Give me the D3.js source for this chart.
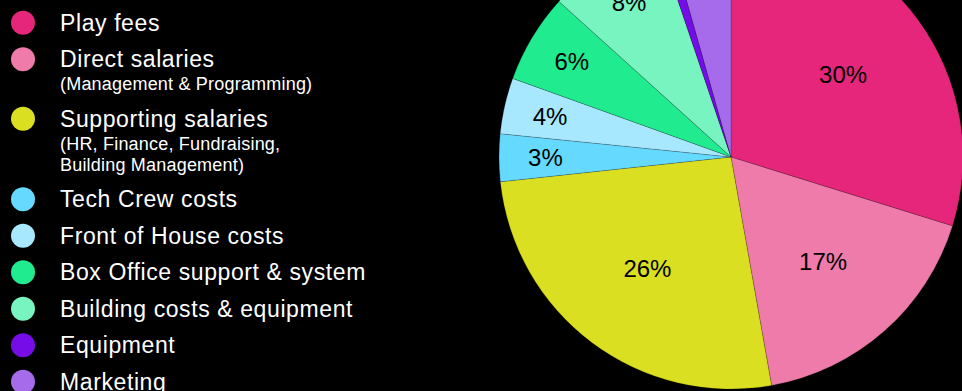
<!DOCTYPE html>
<html>
<head>
<meta charset="utf-8">
<script src="https://cdn.jsdelivr.net/npm/d3@7/dist/d3.min.js"></script>
<style>
  html, body { margin: 0; padding: 0; background: #000; overflow: hidden; }
  svg { display: block; font-family: "Liberation Sans", Arial, Helvetica, sans-serif; }
  .legend-main { fill: #fff; font-size: 23px; letter-spacing: 0.6px; }
  .legend-sub { fill: #fff; font-size: 18px; letter-spacing: 0.2px; }
  .slice-label { fill: #000; font-size: 24px; }
</style>
</head>
<body>
<svg id="chart" width="962" height="391"></svg>
<script>
// cost categories (share of total, %)
const categories = [
  'Play fees',
  'Direct salaries',
  'Supporting salaries',
  'Tech Crew costs',
  'Front of House costs',
  'Box Office support & system',
  'Building costs & equipment',
  'Equipment',
  'Marketing'
];
const subLabels = [
  [],
  ['(Management & Programming)'],
  ['(HR, Finance, Fundraising,', 'Building Management)'],
  [], [], [], [], [], []
];
const shares = [29.8, 17.4, 26.1, 3.3, 3.9, 6.2, 8.1, 0.8, 4.4];
const colors = [
  '#e5267a', '#ef7bab', '#dbdf22', '#66d9ff', '#a8e8ff',
  '#20eb8f', '#78f4c0', '#760ce8', '#a66beb'
];

const W = 962, H = 391;
const svg = d3.select('#chart');

const items = categories.map((name, i) => ({ name, subs: subLabels[i], value: shares[i], color: colors[i] }));

// ---- pie ----
const cx = 731, cy = 157, R = 232;
const pie = d3.pie().sort(null).value(d => d.value);
const arc = d3.arc().innerRadius(0).outerRadius(R);
const total = d3.sum(shares);

const pg = svg.append('g').attr('transform', `translate(${cx},${cy})`);
const arcs = pie(items);

pg.selectAll('path').data(arcs).enter().append('path')
  .attr('d', arc)
  .attr('fill', d => d.data.color)
  .attr('stroke', 'rgba(0,0,0,0.35)')
  .attr('stroke-width', 0.5);

// small slices get their label further out
const labelPos = d => {
  const k = d.data.value / total < 0.1 ? 0.8 : 0.6;
  return d3.arc().innerRadius(R * k).outerRadius(R * k).centroid(d);
};

// labels that would land wholly above the top edge are not drawn
const visible = arcs.filter(d => cy + labelPos(d)[1] + 9 > 0);

pg.selectAll('text').data(visible).enter().append('text')
  .attr('class', 'slice-label')
  .attr('transform', d => `translate(${labelPos(d)})`)
  .attr('text-anchor', 'middle')
  .attr('dy', '0.36em')
  .text(d => Math.round(d.data.value / total * 100) + '%');

// ---- legend ----
const lg = svg.append('g');
let y = 22.7;
items.forEach(it => {
  const g = lg.append('g');
  g.append('circle').attr('cx', 23).attr('cy', y).attr('r', 12).attr('fill', it.color);
  const base = y + 8;
  g.append('text').attr('class', 'legend-main').attr('x', 60).attr('y', base).text(it.name);
  let last = base;
  it.subs.forEach((s, j) => {
    last = base + 23 + j * 21;
    g.append('text').attr('class', 'legend-sub').attr('x', 60).attr('y', last).text(s);
  });
  y = last + 28.5;
});
</script>
</body>
</html>
